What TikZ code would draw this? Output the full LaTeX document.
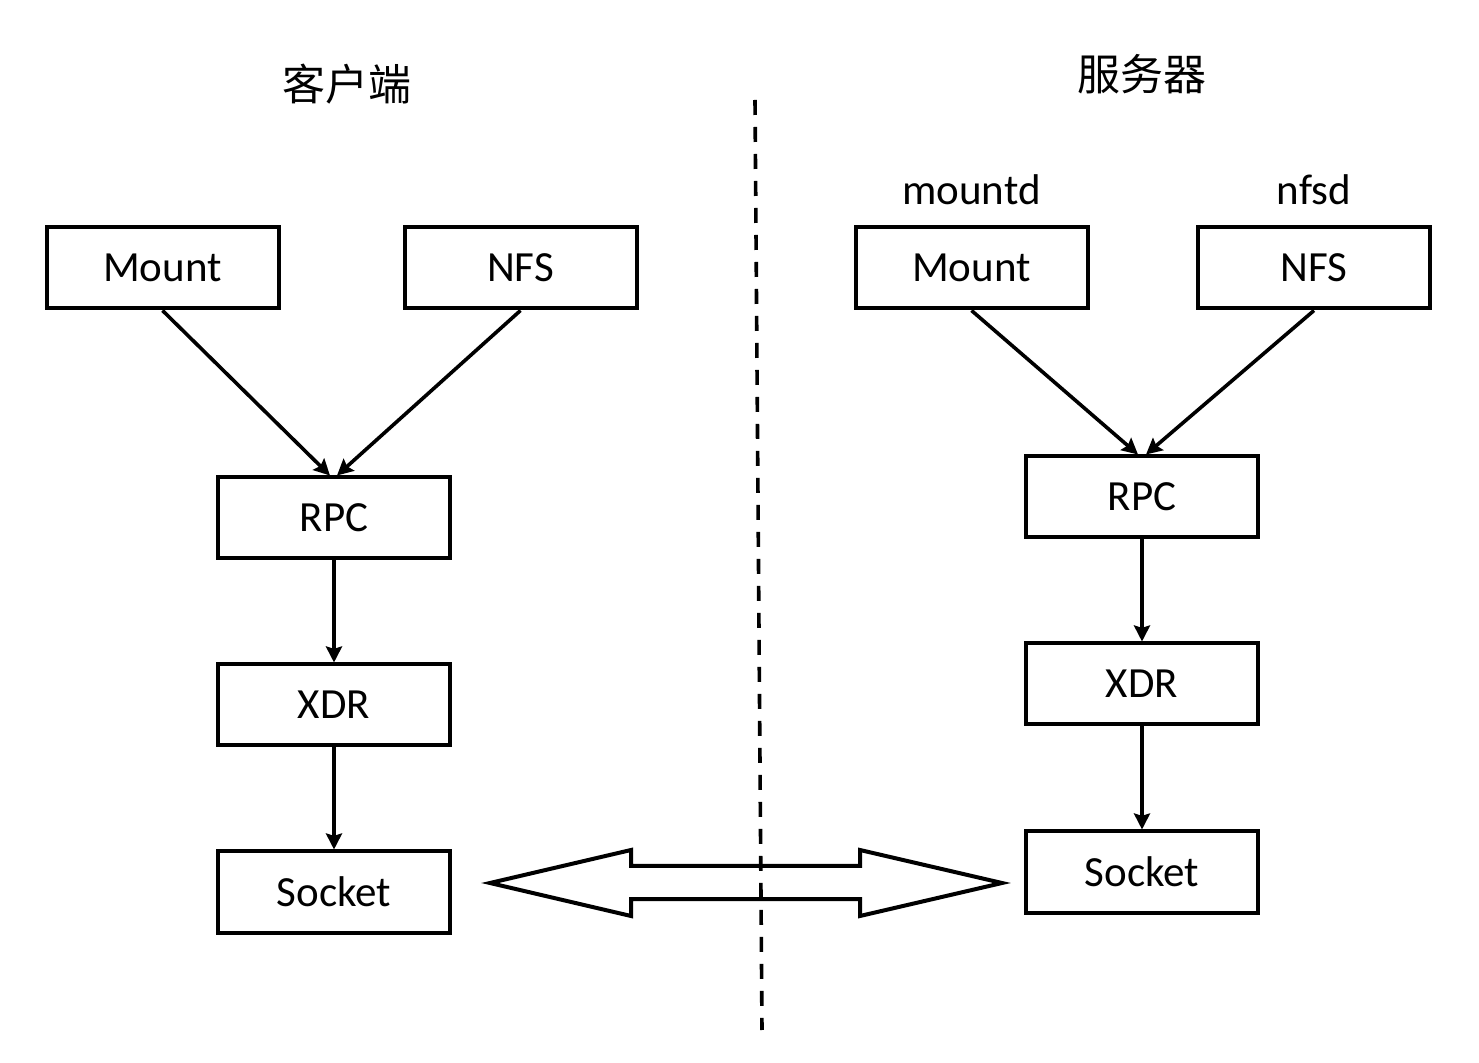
\documentclass[tikz,border=0pt]{standalone}
\usepackage{fontspec}
\setmainfont{Carlito}
\newfontfamily\cjk{Noto Sans CJK SC}
\usetikzlibrary{arrows.meta,calc}

\begin{document}
\begin{tikzpicture}[x=0.5pt,y=-0.5pt,
  layerbox/.style={draw=black,line width=2pt,minimum width=116pt,minimum height=40.5pt,
    inner sep=0pt,font=\fontsize{21.5}{26}\selectfont},
  flow/.style={line width=1.8pt,-{Stealth[length=8pt,width=8pt,inset=1.2pt]}},
  title/.style={font=\cjk\fontsize{21.5}{26}\selectfont},
  proc/.style={font=\fontsize{21.5}{26}\selectfont,anchor=base}]
\useasboundingbox (0,0) rectangle (1479,1063);

% headings
\node[title] (tclient) at (347,84) {客户端};
\node[title] (tserver) at (1142,74) {服务器};
\node[proc] (dmount) at (971.5,205) {mountd};
\node[proc] (dnfs) at (1314,205) {nfsd};

% client stack
\node[layerbox] (cmount) at (162.5,268) {Mount};
\node[layerbox] (cnfs) at (520.5,268) {NFS};
\node[layerbox] (crpc) at (334,518) {RPC};
\node[layerbox] (cxdr) at (334,705) {XDR};
\node[layerbox] (csock) at (334,892) {Socket};

% server stack
\node[layerbox] (smount) at (971.5,268) {Mount};
\node[layerbox] (snfs) at (1314,268) {NFS};
\node[layerbox] (srpc) at (1142,497) {RPC};
\node[layerbox] (sxdr) at (1142,684) {XDR};
\node[layerbox] (ssock) at (1142,872) {Socket};

% client connectors
\draw[flow] (cmount.south) -- ($(crpc.north)+(-4,0)$);
\draw[flow] (cnfs.south) -- ($(crpc.north)+(3,0)$);
\draw[flow] (crpc.south) -- (cxdr.north);
\draw[flow] (cxdr.south) -- (csock.north);

% server connectors
\draw[flow] (smount.south) -- ($(srpc.north)+(-4,0)$);
\draw[flow] (snfs.south) -- ($(srpc.north)+(4,0)$);
\draw[flow] (srpc.south) -- (sxdr.north);
\draw[flow] (sxdr.south) -- (ssock.north);

% divider between client and server
\coordinate (dtop) at (755,100);
\coordinate (dbot) at (762,1030);
\draw[line width=1.8pt,dash pattern=on 7.5pt off 6pt] (dtop) -- (dbot);

% two-way network exchange
\draw[line width=2pt,line join=miter]
  (490,883) -- (631,850) -- (631,866) -- (860,866) -- (860,850) -- (1002,883)
  -- (860,916) -- (860,899) -- (631,899) -- (631,916) -- cycle;
\end{tikzpicture}
\end{document}
